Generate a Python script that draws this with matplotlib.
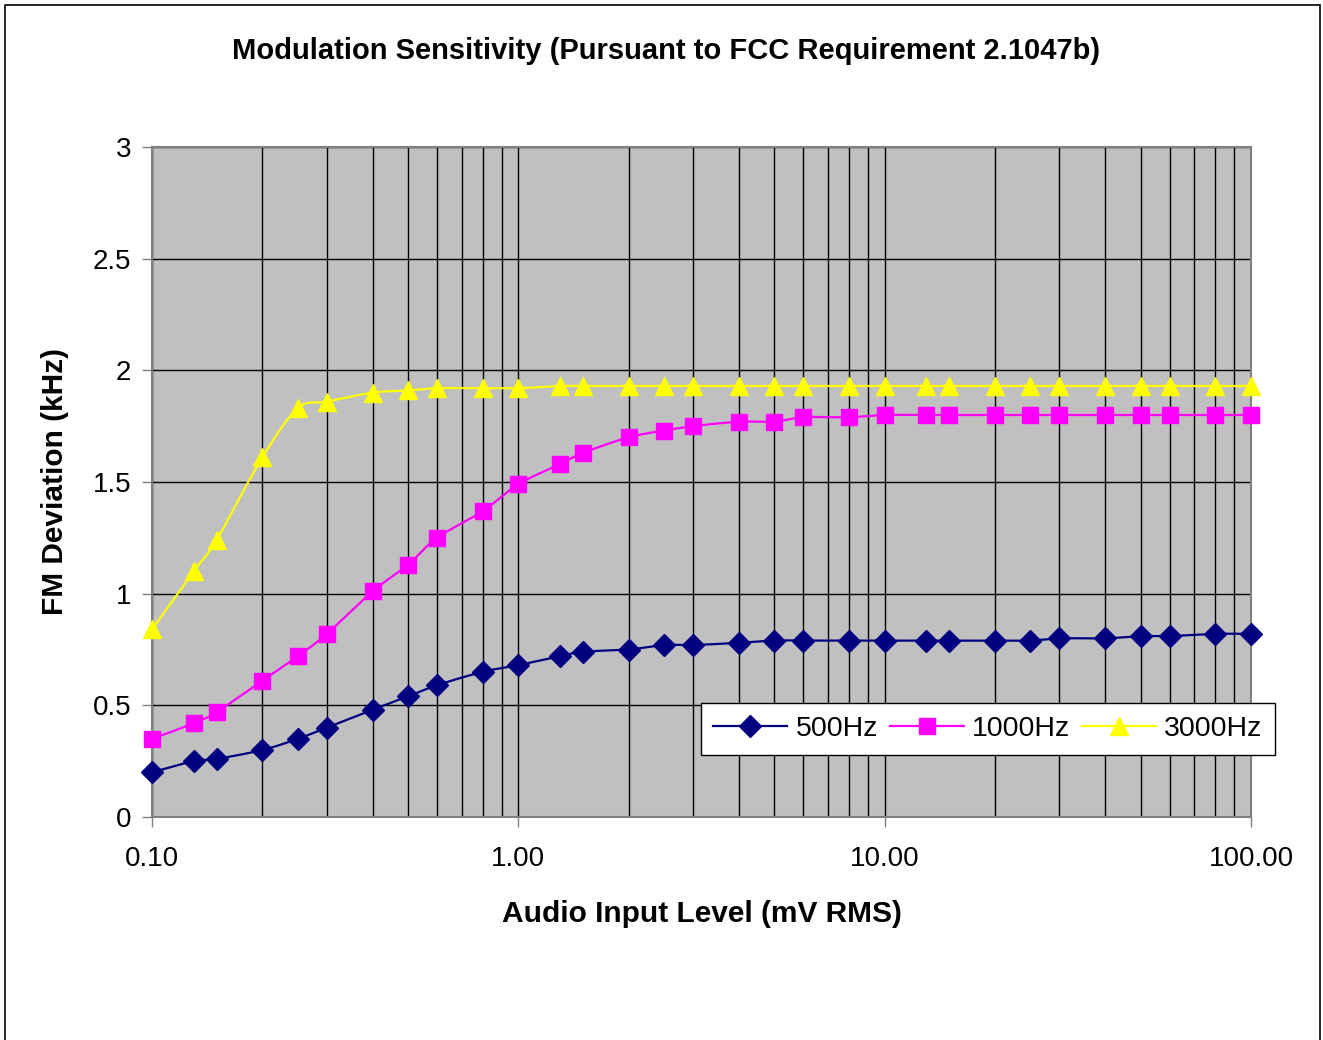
import numpy as np
import matplotlib
matplotlib.use("Agg")
import matplotlib.pyplot as plt
from matplotlib.ticker import FixedLocator, FuncFormatter, LogLocator, NullFormatter
from matplotlib.patches import Rectangle

plt.rcParams['font.family'] = ['Liberation Sans', 'DejaVu Sans']

# audio input level (mV RMS)
niveis = [0.1, 0.13, 0.15, 0.2, 0.25, 0.3, 0.4, 0.5, 0.6, 0.8, 1.0, 1.3, 1.5, 2, 2.5, 3,
          4, 5, 6, 8, 10, 13, 15, 20, 25, 30, 40, 50, 60, 80, 100]

# FM deviation (kHz)
dev_500 = [0.20, 0.25, 0.26, 0.30, 0.35, 0.40, 0.48, 0.54, 0.59, 0.65, 0.68, 0.72, 0.74, 0.75,
           0.77, 0.77, 0.78, 0.79, 0.79, 0.79, 0.79, 0.79, 0.79, 0.79, 0.79, 0.80, 0.80, 0.81,
           0.81, 0.82, 0.82]
dev_1000 = [0.35, 0.42, 0.47, 0.61, 0.72, 0.82, 1.01, 1.13, 1.25, 1.37, 1.49, 1.58, 1.63, 1.70,
            1.73, 1.75, 1.77, 1.77, 1.79, 1.79, 1.80, 1.80, 1.80, 1.80, 1.80, 1.80, 1.80, 1.80,
            1.80, 1.80, 1.80]
dev_3000 = [0.84, 1.10, 1.24, 1.61, 1.83, 1.86, 1.90, 1.91, 1.92, 1.92, 1.92, 1.93, 1.93, 1.93,
            1.93, 1.93, 1.93, 1.93, 1.93, 1.93, 1.93, 1.93, 1.93, 1.93, 1.93, 1.93, 1.93, 1.93,
            1.93, 1.93, 1.93]

series = [
    ("500Hz", dev_500, "#000080", "D", 11.5),
    ("1000Hz", dev_1000, "#FF00FF", "s", 12),
    ("3000Hz", dev_3000, "#FFFF00", "^", 13.5),
]


def suavizar(xs, ys, n=20):
    # curva suave tipo Excel (Bezier com tangentes Catmull-Rom) em espaco log-x
    u = np.log10(np.asarray(xs, float))
    v = np.asarray(ys, float)
    pu, pv = [], []
    for i in range(len(u) - 1):
        i0 = max(i - 1, 0)
        i3 = min(i + 2, len(u) - 1)
        c1u = u[i] + (u[i + 1] - u[i0]) / 6
        c1v = v[i] + (v[i + 1] - v[i0]) / 6
        c2u = u[i + 1] - (u[i3] - u[i]) / 6
        c2v = v[i + 1] - (v[i3] - v[i]) / 6
        t = np.linspace(0, 1, n, endpoint=False)
        b0, b1, b2, b3 = (1 - t) ** 3, 3 * t * (1 - t) ** 2, 3 * t ** 2 * (1 - t), t ** 3
        pu.extend(b0 * u[i] + b1 * c1u + b2 * c2u + b3 * u[i + 1])
        pv.extend(b0 * v[i] + b1 * c1v + b2 * c2v + b3 * v[i + 1])
    pu.append(u[-1])
    pv.append(v[-1])
    return 10 ** np.array(pu), np.array(pv)


fig = plt.figure(figsize=(13.23, 10.4), dpi=100)
ax = fig.add_axes([152 / 1323, 1 - 817 / 1040, (1251 - 152) / 1323, (817 - 147) / 1040])
ax.set_facecolor("#C0C0C0")

handles = []
for nome, vals, cor, marc, ms in series:
    sx, sy = suavizar(niveis, vals)
    ax.plot(sx, sy, color=cor, lw=1.6, zorder=3, clip_on=False)
    ax.plot(niveis, vals, ls="none", marker=marc, ms=ms, color=cor, zorder=4, clip_on=False)
    h, = ax.plot([], [], color=cor, lw=1.6, marker=marc, ms=ms, label=nome)
    handles.append(h)

ax.set_xscale("log")
ax.set_xlim(0.1, 100)
ax.set_ylim(0, 3)
ax.xaxis.set_major_locator(FixedLocator([0.1, 1, 10, 100]))
ax.xaxis.set_major_formatter(FuncFormatter(lambda v, p: "%.2f" % v))
ax.xaxis.set_minor_locator(LogLocator(base=10, subs=np.arange(2, 10)))
ax.xaxis.set_minor_formatter(NullFormatter())
ax.set_yticks([0, 0.5, 1, 1.5, 2, 2.5, 3])
ax.set_yticklabels(["0", "0.5", "1", "1.5", "2", "2.5", "3"])

ax.grid(True, which="both", axis="x", color="black", lw=1)
ax.grid(True, which="major", axis="y", color="black", lw=1)
ax.set_axisbelow(True)

for s in ax.spines.values():
    s.set_color("#808080")
    s.set_linewidth(1.5)

ax.tick_params(axis="both", which="major", labelsize=20, length=7, width=1, color="#808080")
ax.tick_params(axis="y", which="major", pad=8)
ax.tick_params(axis="x", which="major", pad=14)
ax.tick_params(axis="x", which="minor", length=0)

ax.set_xlabel("Audio Input Level (mV RMS)", fontsize=21.5, fontweight="bold", labelpad=20)
ax.set_ylabel("FM Deviation (kHz)", fontsize=21.5, fontweight="bold", labelpad=17)
fig.text(666 / 1323, 1 - 51 / 1040, "Modulation Sensitivity (Pursuant to FCC Requirement 2.1047b)",
         ha="center", va="center", fontsize=21, fontweight="bold")

leg = fig.legend(handles=handles, loc="center", bbox_to_anchor=(988 / 1323, 1 - 729 / 1040),
                 ncol=3, fontsize=20.5, frameon=True, fancybox=False, edgecolor="black",
                 framealpha=1, handlelength=2.6, handletextpad=0.3, columnspacing=0.4,
                 borderpad=0.45, numpoints=1)
leg.get_frame().set_linewidth(1)

fig.patches.append(Rectangle((5 / 1323, -0.05), 1315 / 1323, 1.05 - 5 / 1040, transform=fig.transFigure,
                             fill=False, edgecolor="black", lw=1.2))

fig.savefig("out.png", dpi=100)
